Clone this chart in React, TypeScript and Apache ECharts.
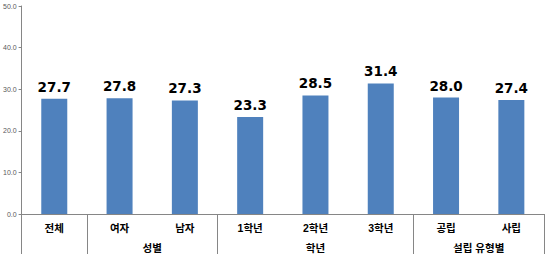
import React, { useEffect, useRef } from "react";
import * as echarts from "echarts";

const categories = ["전체", "여자", "남자", "1학년", "2학년", "3학년", "공립", "사립"];
const values = [27.7, 27.8, 27.3, 23.3, 28.5, 31.4, 28.0, 27.4];
const groupNames = ["", "성별", "학년", "설립 유형별"];
const groupSizes = [1, 2, 3, 2];
const yTicks = [0, 10, 20, 30, 40, 50];

export default function App() {
  const ref = useRef<HTMLDivElement>(null);
  useEffect(() => {
    if (!ref.current) return;
    const chart = echarts.init(ref.current, null, { renderer: "svg" });
    const bounds: number[] = [0];
    groupSizes.forEach((s) => bounds.push(bounds[bounds.length - 1] + s));
    const centers: number[] = [];
    const centerName: Record<string, string> = {};
    groupSizes.forEach((s, i) => {
      if (groupNames[i]) {
        const c = bounds[i] + s / 2;
        centers.push(c);
        centerName[String(c)] = groupNames[i];
      }
    });
    const font = '"Liberation Sans", "Noto Sans CJK KR", sans-serif';
    chart.setOption({
      animation: false,
      backgroundColor: "#ffffff",
      grid: { left: 21, right: 6, top: 6, bottom: 44, containLabel: false },
      xAxis: [
        {
          type: "category",
          data: categories,
          position: "bottom",
          axisLine: { show: true, lineStyle: { color: "#868686", width: 1 } },
          axisTick: { show: false },
          axisLabel: {
            color: "#000000",
            fontSize: 10.5,
            fontWeight: "bold",
            fontFamily: font,
            margin: 9,
            interval: 0,
          },
        },
        {
          type: "value",
          min: 0,
          max: categories.length,
          position: "bottom",
          axisLine: { show: false },
          splitLine: { show: false },
          axisTick: {
            show: true,
            customValues: bounds,
            length: 40,
            lineStyle: { color: "#868686", width: 1 },
          },
          axisLabel: {
            show: true,
            customValues: centers,
            formatter: (v: number) => centerName[String(v)] ?? "",
            color: "#000000",
            fontSize: 10.5,
            fontWeight: "bold",
            fontFamily: font,
            margin: 29,
          },
        },
      ],
      yAxis: {
        type: "value",
        min: yTicks[0],
        max: yTicks[yTicks.length - 1],
        interval: 10,
        axisLine: { show: true, lineStyle: { color: "#868686", width: 1 } },
        axisTick: { show: true, length: 3, lineStyle: { color: "#868686" } },
        splitLine: { show: false },
        axisLabel: {
          formatter: (v: number) => v.toFixed(1),
          color: "#595959",
          fontSize: 7,
          fontFamily: font,
          margin: 5,
        },
      },
      series: [
        {
          type: "bar",
          data: values,
          barWidth: 26,
          itemStyle: { color: "#4F81BD" },
          label: {
            show: true,
            position: "top",
            distance: 5,
            formatter: (p: any) => Number(p.value).toFixed(1),
            color: "#000000",
            fontSize: 13.5,
            fontWeight: "bold",
            fontFamily: '"DejaVu Sans", sans-serif',
          },
        },
      ],
    });
    return () => chart.dispose();
  }, []);
  return <div ref={ref} style={{ width: 550, height: 258, position: "absolute", left: 0, top: 0 }} />;
}
